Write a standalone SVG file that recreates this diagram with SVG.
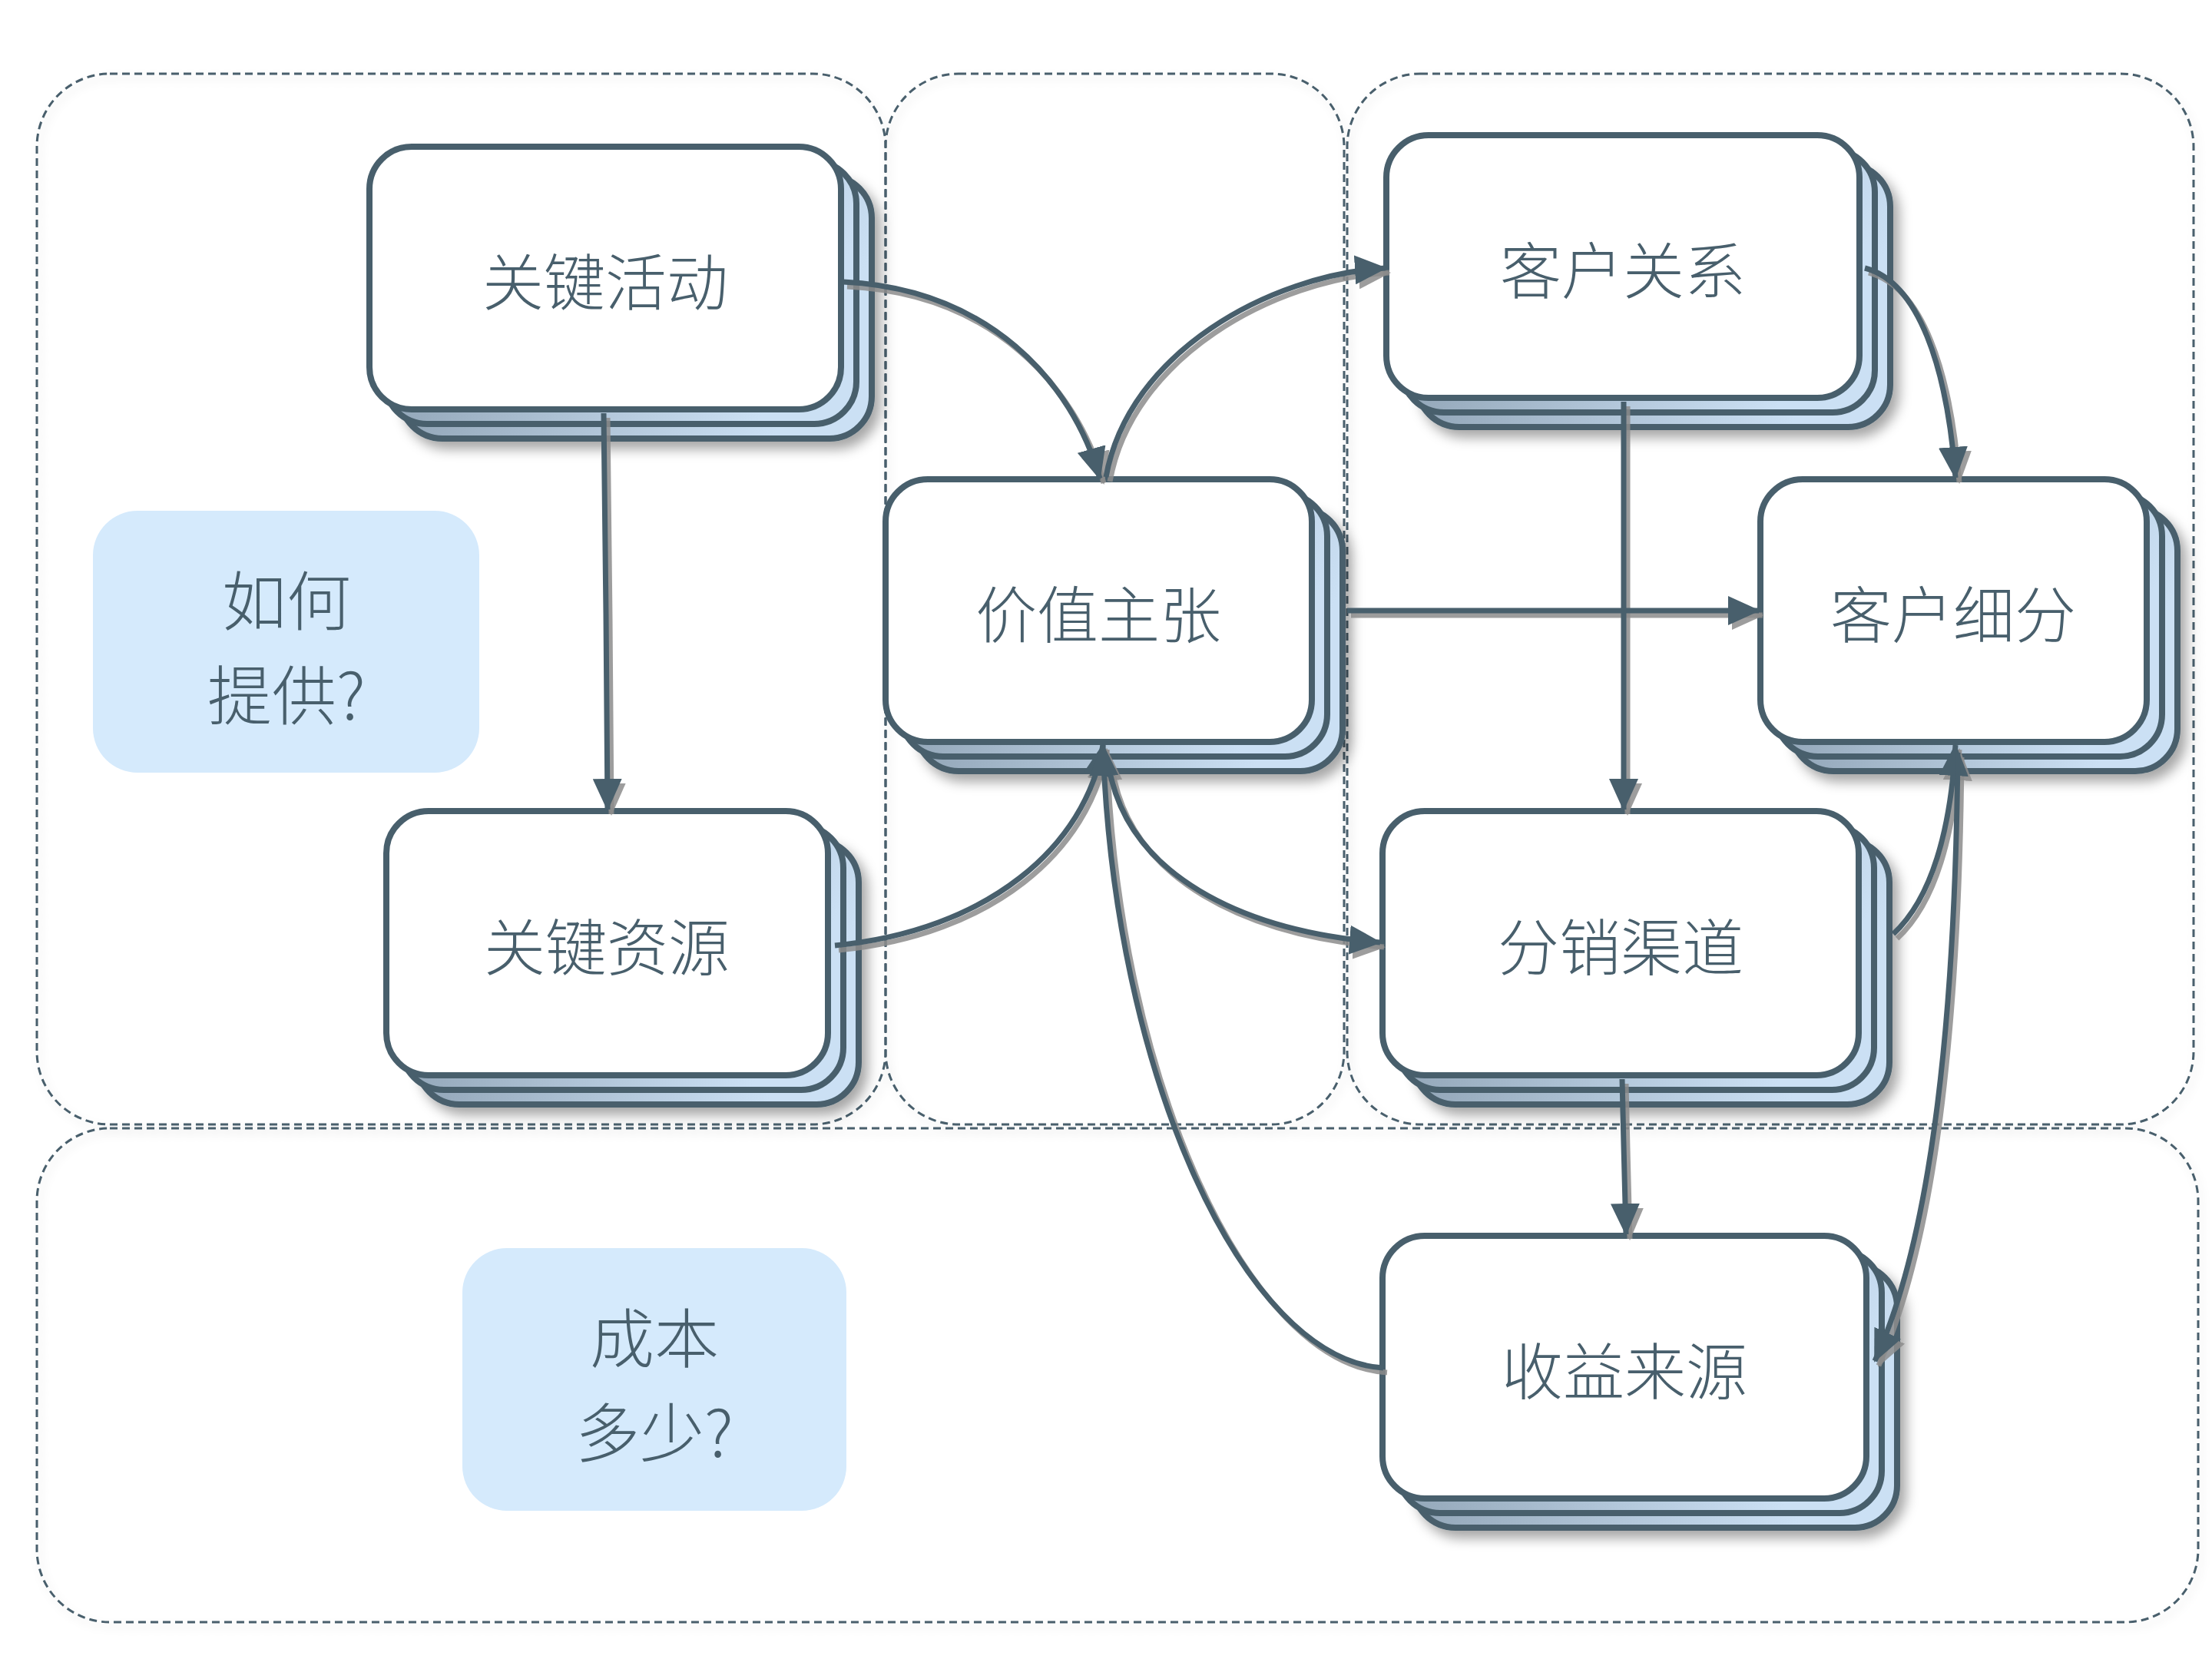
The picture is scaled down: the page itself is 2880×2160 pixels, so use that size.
<svg xmlns="http://www.w3.org/2000/svg" width="2880" height="2160" viewBox="0 0 2880 2160">
<defs>
  <linearGradient id="layerGrad" x1="0" y1="0" x2="1" y2="0.3">
    <stop offset="0" stop-color="#7f92a3"/>
    <stop offset="1" stop-color="#cbe0f4"/>
  </linearGradient>
  <filter id="nodeShadow" x="-10%" y="-10%" width="125%" height="130%">
    <feDropShadow dx="8" dy="10" stdDeviation="8" flood-color="#000" flood-opacity="0.35"/>
  </filter>
  <filter id="contShadow" x="-5%" y="-5%" width="110%" height="110%">
    <feDropShadow dx="4" dy="6" stdDeviation="6" flood-color="#000" flood-opacity="0.12"/>
  </filter>
  <marker id="arrow" markerUnits="userSpaceOnUse" viewBox="0 0 42 38" markerWidth="42" markerHeight="38" refX="40" refY="19" orient="auto">
    <path d="M0,0 L42,19 L0,38 z" fill="#485f6c"/>
  </marker>
  <marker id="arrowShadow" markerUnits="userSpaceOnUse" viewBox="0 0 42 38" markerWidth="42" markerHeight="38" refX="40" refY="19" orient="auto">
    <path d="M0,0 L42,19 L0,38 z" fill="#8c8c8c" fill-opacity="0.85"/>
  </marker>
  <style>
    .cont { fill: none; stroke: #485f6c; stroke-width: 3; stroke-dasharray: 10 6; }
    .main { fill: #ffffff; stroke: #485f6c; stroke-width: 8; }
    .layer { fill: url(#layerGrad); stroke: #485f6c; stroke-width: 8; }
    .lbl { font-family: "Noto Sans CJK SC", "Noto Sans", sans-serif; font-weight: 300; font-size: 80px; fill: #485f6c; text-anchor: middle; dominant-baseline: central; }
    .big { font-size: 84px; }
    .note { fill: #d5eafc; }
    .edge { fill: none; stroke: #485f6c; stroke-width: 7; marker-end: url(#arrow); }
    .edgeS { fill: none; stroke: #8c8c8c; stroke-opacity: 0.85; stroke-width: 7; marker-end: url(#arrowShadow); }
  </style>
</defs>

<rect width="2880" height="2160" fill="#ffffff"/>

<g id="containers" filter="url(#contShadow)">
  <rect class="cont" x="48" y="96" width="1105" height="1368" rx="95" ry="95"/>
  <rect class="cont" x="1153" y="96" width="597" height="1368" rx="95" ry="95"/>
  <rect class="cont" x="1754" y="96" width="1102" height="1368" rx="95" ry="95"/>
  <rect class="cont" x="48" y="1469" width="2814" height="643" rx="95" ry="95"/>
</g>

<g id="note-how">
  <rect class="note" x="121" y="665" width="503" height="341" rx="58" ry="58"/>
  <text class="lbl big" x="373" y="777">如何</text>
  <text class="lbl big" x="373" y="900">提供?</text>
</g>

<g id="note-cost">
  <rect class="note" x="602" y="1625" width="500" height="342" rx="58" ry="58"/>
  <text class="lbl big" x="852" y="1737">成本</text>
  <text class="lbl big" x="852" y="1860">多少?</text>
</g>

<g id="node-key-activities">
  <rect class="layer" x="521" y="229" width="614" height="342" rx="55" filter="url(#nodeShadow)"/>
  <rect class="layer" x="501" y="210" width="614" height="342" rx="55"/>
  <rect class="main" x="481" y="191" width="614" height="342" rx="55"/>
  <text class="lbl" x="788" y="362">关键活动</text>
</g>

<g id="node-key-resources">
  <rect class="layer" x="543" y="1094" width="575" height="344" rx="55" filter="url(#nodeShadow)"/>
  <rect class="layer" x="523" y="1075" width="575" height="344" rx="55"/>
  <rect class="main" x="503" y="1056" width="575" height="344" rx="55"/>
  <text class="lbl" x="790" y="1228">关键资源</text>
</g>

<g id="node-value">
  <rect class="layer" x="1193" y="662" width="555" height="342" rx="55" filter="url(#nodeShadow)"/>
  <rect class="layer" x="1173" y="643" width="555" height="342" rx="55"/>
  <rect class="main" x="1153" y="624" width="555" height="342" rx="55"/>
  <text class="lbl" x="1430" y="795">价值主张</text>
</g>

<g id="node-relations">
  <rect class="layer" x="1845" y="214" width="616" height="342" rx="55" filter="url(#nodeShadow)"/>
  <rect class="layer" x="1825" y="195" width="616" height="342" rx="55"/>
  <rect class="main" x="1805" y="176" width="616" height="342" rx="55"/>
  <text class="lbl" x="2113" y="347">客户关系</text>
</g>

<g id="node-segments">
  <rect class="layer" x="2332" y="662" width="503" height="342" rx="55" filter="url(#nodeShadow)"/>
  <rect class="layer" x="2312" y="643" width="503" height="342" rx="55"/>
  <rect class="main" x="2292" y="624" width="503" height="342" rx="55"/>
  <text class="lbl" x="2543" y="795">客户细分</text>
</g>

<g id="node-channels">
  <rect class="layer" x="1840" y="1094" width="620" height="344" rx="55" filter="url(#nodeShadow)"/>
  <rect class="layer" x="1820" y="1075" width="620" height="344" rx="55"/>
  <rect class="main" x="1800" y="1056" width="620" height="344" rx="55"/>
  <text class="lbl" x="2110" y="1228">分销渠道</text>
</g>

<g id="node-revenue">
  <rect class="layer" x="1840" y="1647" width="630" height="342" rx="55" filter="url(#nodeShadow)"/>
  <rect class="layer" x="1820" y="1628" width="630" height="342" rx="55"/>
  <rect class="main" x="1800" y="1609" width="630" height="342" rx="55"/>
  <text class="lbl" x="2115" y="1780">收益来源</text>
</g>

<g id="connectors">
  <g id="connector-shadows" transform="translate(5,6)">
    <path class="edgeS" d="M1098,367 C1286,376 1396,496 1432,623"/>
    <path class="edgeS" d="M1440,621 C1469,459 1653,358 1804,349"/>
    <path class="edgeS" d="M786,538 L789,800 L791,1054"/>
    <path class="edgeS" d="M1087,1231 C1286,1212 1414,1102 1436,970"/>
    <path class="edgeS" d="M1444,1000 C1469,1139 1616,1212 1797,1227"/>
    <path class="edgeS" d="M1801,1781 C1620,1770 1450,1400 1436,970"/>
    <path class="edgeS" d="M1754,795 L2290,795"/>
    <path class="edgeS" d="M2114,523 L2114,1054"/>
    <path class="edgeS" d="M2428,349 C2498,367 2535,478 2546,622"/>
    <path class="edgeS" d="M2465,1216 C2515,1170 2540,1080 2546,970"/>
    <path class="edgeS" d="M2549,980 C2546,1300 2520,1600 2441,1772"/>
    <path class="edgeS" d="M2112,1405 L2114,1490 L2117,1607"/>
  </g>
  <path id="e-act-value" class="edge" d="M1098,367 C1286,376 1396,496 1432,623"/>
  <path id="e-value-rel" class="edge" d="M1440,621 C1469,459 1653,358 1804,349"/>
  <path id="e-act-res" class="edge" d="M786,538 L789,800 L791,1054"/>
  <path id="e-res-value" class="edge" d="M1087,1231 C1286,1212 1414,1102 1436,970"/>
  <path id="e-value-chan" class="edge" d="M1444,1000 C1469,1139 1616,1212 1797,1227"/>
  <path id="e-rev-value" class="edge" d="M1801,1781 C1620,1770 1450,1400 1436,970"/>
  <path id="e-value-seg" class="edge" d="M1754,795 L2290,795"/>
  <path id="e-rel-chan" class="edge" d="M2114,523 L2114,1054"/>
  <path id="e-rel-seg" class="edge" d="M2428,349 C2498,367 2535,478 2546,622"/>
  <path id="e-chan-seg" class="edge" d="M2465,1216 C2515,1170 2540,1080 2546,970"/>
  <path id="e-seg-rev" class="edge" d="M2549,980 C2546,1300 2520,1600 2441,1772"/>
  <path id="e-chan-rev" class="edge" d="M2112,1405 L2114,1490 L2117,1607"/>
</g>
</svg>
